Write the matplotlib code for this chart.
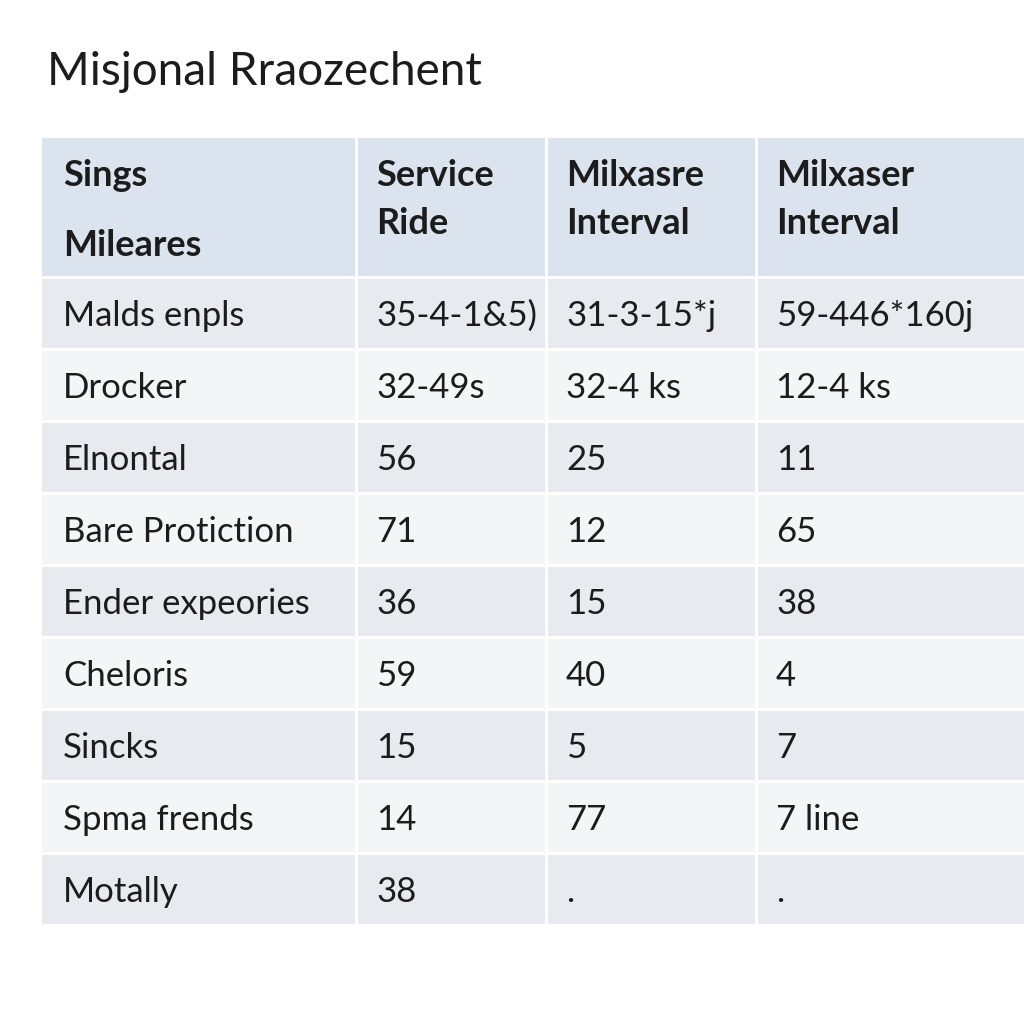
import matplotlib.pyplot as plt
from matplotlib.patches import Rectangle

title = "Misjonal Rraozechent"
headers = ["Sings\nMileares", "Service\nRide", "Milxasre\nInterval", "Milxaser\nInterval"]
row_labels = ["Malds enpls", "Drocker", "Elnontal", "Bare Protiction",
              "Ender expeories", "Cheloris", "Sincks", "Spma frends", "Motally"]
service_ride = ["35-4-1&5)", "32-49s", "56", "71", "36", "59", "15", "14", "38"]
interval_a = ["31-3-15*j", "32-4 ks", "25", "12", "15", "40", "5", "77", "."]
interval_b = ["59-446*160j", "12-4 ks", "11", "65", "38", "4", "7", "7 line", "."]

col_edges = [42, 355, 545, 755, 1024]
header_top, header_bot = 138, 276
row_h = 72
gap = 3

header_color = "#dbe4ee"
odd_color = "#e7eaee"
even_color = "#f4f5f7"
text_color = "#1c1c1c"

plt.rcParams["font.family"] = ["Lato", "DejaVu Sans"]

fig = plt.figure(figsize=(10.24, 10.24), dpi=100)
ax = fig.add_axes([0, 0, 1, 1])
ax.set_xlim(0, 1024)
ax.set_ylim(1024, 0)
ax.axis("off")

ax.text(47, 72, title, fontsize=33, color=text_color, va="center", ha="left")

# header
for c in range(4):
    x0 = col_edges[c] + (0 if c == 0 else gap)
    x1 = col_edges[c + 1]
    ax.add_patch(Rectangle((x0, header_top), x1 - x0, header_bot - header_top,
                           facecolor=header_color, edgecolor="none"))
    top, bottom = headers[c].split("\n")
    if c == 0:
        y_top, y_bot = 175, 245
    else:
        y_top, y_bot = 175, 224
    ax.text(col_edges[c] + 21, y_top, top, fontsize=26, fontweight="bold",
            color=text_color, va="center", ha="left")
    ax.text(col_edges[c] + 21, y_bot, bottom, fontsize=26, fontweight="bold",
            color=text_color, va="center", ha="left")

# body rows
columns = [row_labels, service_ride, interval_a, interval_b]
for r in range(len(row_labels)):
    y0 = header_bot + gap + r * row_h
    color = odd_color if r % 2 == 0 else even_color
    for c in range(4):
        x0 = col_edges[c] + (0 if c == 0 else gap)
        x1 = col_edges[c + 1]
        ax.add_patch(Rectangle((x0, y0), x1 - x0, row_h - gap,
                               facecolor=color, edgecolor="none"))
        ax.text(col_edges[c] + 21, y0 + (row_h - gap) / 2 + 2, columns[c][r],
                fontsize=25, color=text_color, va="center", ha="left")

fig.savefig("out.png", dpi=100, facecolor="white")
